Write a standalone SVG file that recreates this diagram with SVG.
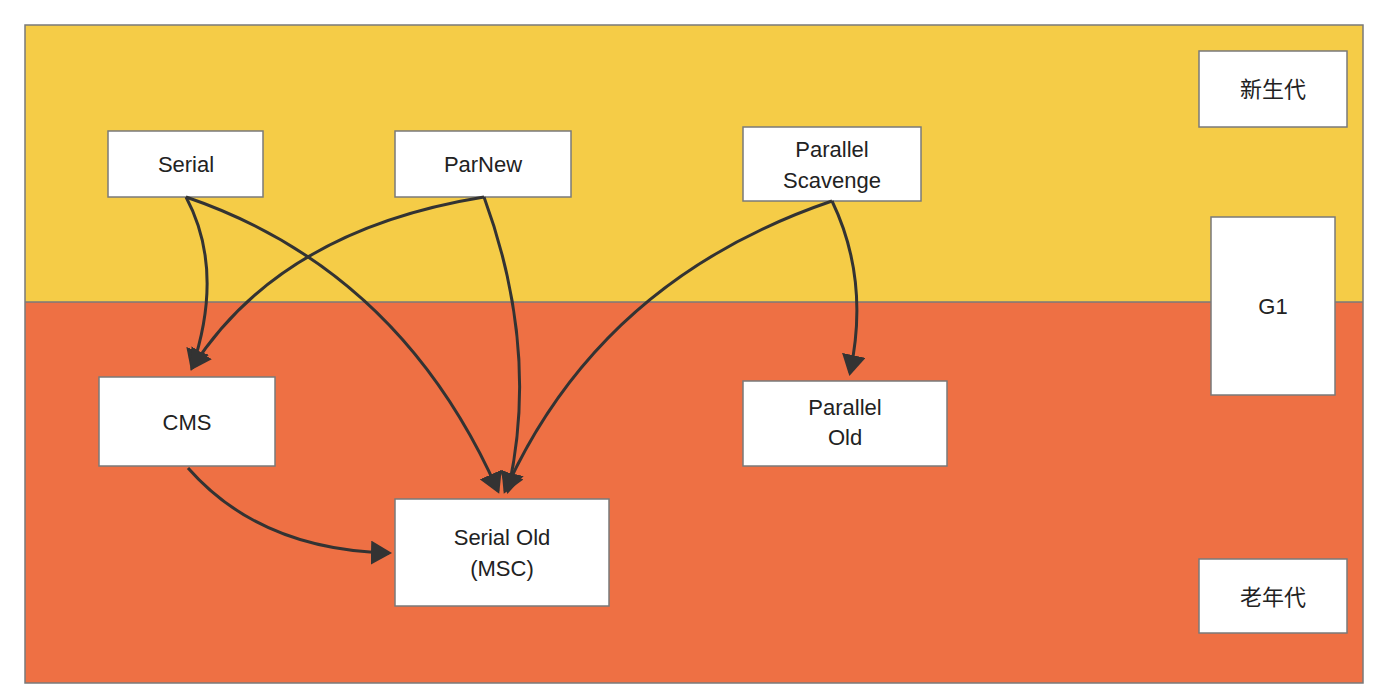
<svg xmlns="http://www.w3.org/2000/svg" width="1386" height="698" viewBox="0 0 1386 698">
<style>
.n rect{fill:#fff;stroke:#7a7a7a;stroke-width:1.5}
.n text{font-family:"Liberation Sans","Noto Sans CJK SC",sans-serif;font-size:22px;fill:#222;text-anchor:middle}
.c path{fill:none;stroke:#333;stroke-width:3}
</style>
<defs><marker id="a" markerWidth="8" markerHeight="8" refX="6" refY="4" orient="auto" markerUnits="strokeWidth"><path d="M0,0 L7,4 L0,8 Z" fill="#333"/></marker></defs>
<rect width="1386" height="698" fill="#fff"/>
<rect x="25" y="25" width="1338" height="277" fill="#F5CC47"/>
<rect x="25" y="302" width="1338" height="381" fill="#EE7044"/>
<rect x="25" y="25" width="1338" height="658" fill="none" stroke="#7a7a7a" stroke-width="1.5"/>
<line x1="25" y1="302" x2="1363" y2="302" stroke="#7a7a7a" stroke-width="1.5"/>
<g id="serial" class="n"><rect x="108" y="131" width="155" height="66"/><text x="186" y="172">Serial</text></g>
<g id="parnew" class="n"><rect x="395" y="131" width="176" height="66"/><text x="483" y="172">ParNew</text></g>
<g id="ps" class="n"><rect x="743" y="127" width="178" height="74"/><text x="832" y="157">Parallel</text><text x="832" y="188">Scavenge</text></g>
<g id="young" class="n"><rect x="1199" y="51" width="148" height="76"/><text x="1273" y="97">新生代</text></g>
<g id="g1" class="n"><rect x="1211" y="217" width="124" height="178"/><text x="1273" y="314">G1</text></g>
<g id="cms" class="n"><rect x="99" y="377" width="176" height="89"/><text x="187" y="430">CMS</text></g>
<g id="po" class="n"><rect x="743" y="381" width="204" height="85"/><text x="845" y="415">Parallel</text><text x="845" y="445">Old</text></g>
<g id="so" class="n"><rect x="395" y="499" width="214" height="107"/><text x="502" y="545">Serial Old</text><text x="502" y="576">(MSC)</text></g>
<g id="old" class="n"><rect x="1199" y="559" width="148" height="74"/><text x="1273" y="605">老年代</text></g>
<g id="connectors" class="c">
<path d="M186,197 Q225,270 192,368" marker-end="url(#a)"/>
<path d="M186,197 Q400,270 498,491" marker-end="url(#a)"/>
<path d="M484,197 Q280,230 192,368" marker-end="url(#a)"/>
<path d="M484,197 Q540,350 508,491" marker-end="url(#a)"/>
<path d="M832,201 Q600,280 505,491" marker-end="url(#a)"/>
<path d="M832,201 Q870,280 850,373" marker-end="url(#a)"/>
<path d="M188,468 Q260,550 389,553" marker-end="url(#a)"/>
</g>
</svg>
